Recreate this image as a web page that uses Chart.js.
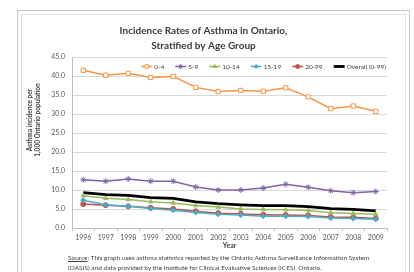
<!DOCTYPE html>
<html>
<head>
<meta charset="utf-8">
<script src="https://cdn.jsdelivr.net/npm/chart.js@4/dist/chart.umd.min.js"></script>
<style>
    html, body { margin: 0; padding: 0; background: #fff; }
    #wrap { position: relative; width: 414px; height: 272px; overflow: hidden; }
    #wrap canvas { position: absolute; left: 0; top: 0; }
    .frame { position: absolute; border: 1px solid #c9c9c9; }
    #source {
        position: absolute; left: 68px; top: 253px; width: 330px;
        font-family: Lato, "Open Sans", sans-serif; font-size: 6.5px; line-height: 10px;
        color: #404040; white-space: nowrap;
    }
</style>
</head>
<body>
<div id="wrap">
    <div class="frame" style="left:17px; top:10px; width:391px; height:280px;"></div>
    <div class="frame" style="left:21px; top:14px; width:383px; height:280px; border-color:#e0e0e0;"></div>
    <canvas id="chart" width="414" height="272"></canvas>
    <div id="source"><u>Source</u>: This graph uses asthma statistics reported by the Ontario Asthma Surveillance Information System<br>(OASIS) and data provided by the Institute for Clinical Evaluative Sciences (ICES), Ontario.</div>
</div>
<script>
// 数据
const years = ['1996', '1997', '1998', '1999', '2000', '2001', '2002', '2003', '2004', '2005', '2006', '2007', '2008', '2009'];
const age0to4 = [41.5, 40.2, 40.7, 39.6, 39.9, 37.0, 35.9, 36.2, 36.0, 36.9, 34.5, 31.4, 32.1, 30.7];
const age5to9 = [12.7, 12.3, 12.9, 12.3, 12.3, 10.8, 10.0, 10.0, 10.5, 11.5, 10.7, 9.8, 9.3, 9.6];
const age10to14 = [8.5, 7.8, 7.5, 6.9, 6.6, 5.9, 5.5, 5.0, 4.9, 4.8, 4.6, 4.0, 3.8, 3.6];
const age15to19 = [7.3, 6.1, 5.7, 5.1, 4.7, 4.1, 3.6, 3.4, 3.1, 3.1, 3.0, 2.6, 2.5, 2.3];
const age20to99 = [6.3, 6.0, 5.7, 5.3, 5.0, 4.4, 3.9, 3.7, 3.5, 3.4, 3.3, 2.9, 2.8, 2.5];
const overall = [9.3, 8.8, 8.6, 8.0, 7.8, 6.9, 6.4, 6.1, 5.9, 5.9, 5.6, 5.1, 4.9, 4.5];
const yTicks = [0, 5, 10, 15, 20, 25, 30, 35, 40, 45];
const yTitle = ['Asthma incidence per', '1,000 Ontario population'];

const FONT = 'Lato, "Open Sans", sans-serif';
const GREY = '#595959';

function series(label, data, color, style, extra) {
    return Object.assign({
        label: label,
        data: data,
        borderColor: color,
        backgroundColor: color,
        borderWidth: 1.5,
        pointStyle: style,
        pointRadius: 2.5,
        pointBorderColor: color,
        pointBackgroundColor: color,
        pointBorderWidth: 1,
        tension: 0
    }, extra || {});
}

// 图例画在绘图区内（右上）
const insideLegend = {
    id: 'insideLegend',
    afterDraw(chart) {
        const ctx = chart.ctx;
        const area = chart.chartArea;
        const sets = chart.data.datasets;
        ctx.save();
        ctx.font = '6.5px ' + FONT;
        const lineLen = 11, gap = 2, space = 11;
        const widths = sets.map(d => ctx.measureText(d.label).width);
        let total = space * (sets.length - 1);
        widths.forEach(w => { total += lineLen + gap + w; });
        let x = area.right - 1 - total;
        const y = 66.5;
        sets.forEach((d, i) => {
            ctx.strokeStyle = d.borderColor;
            ctx.lineWidth = d.borderWidth;
            ctx.beginPath();
            ctx.moveTo(x, y);
            ctx.lineTo(x + lineLen, y);
            ctx.stroke();
            if (d.pointRadius > 0) {
                ctx.fillStyle = d.pointBackgroundColor;
                ctx.strokeStyle = d.pointBorderColor;
                ctx.lineWidth = d.pointBorderWidth;
                Chart.helpers.drawPoint(ctx, {
                    pointStyle: d.pointStyle,
                    radius: d.pointRadius - 0.5,
                    borderWidth: d.pointBorderWidth,
                    rotation: 0
                }, x + lineLen / 2, y);
            }
            ctx.fillStyle = '#404040';
            ctx.textBaseline = 'middle';
            ctx.fillText(d.label, x + lineLen + gap, y);
            x += lineLen + gap + widths[i] + space;
        });
        ctx.restore();
    }
};

// y轴标题（位置偏上，与原图一致）
const yAxisTitle = {
    id: 'yAxisTitle',
    afterDraw(chart) {
        const ctx = chart.ctx;
        ctx.save();
        ctx.fillStyle = '#404040';
        ctx.font = 'bold 6.5px ' + FONT;
        ctx.textAlign = 'center';
        ctx.textBaseline = 'middle';
        const xs = [30, 38];
        yTitle.forEach((line, i) => {
            ctx.save();
            ctx.translate(xs[i], 120);
            ctx.rotate(-Math.PI / 2);
            ctx.fillText(line, 0, 0);
            ctx.restore();
        });
        ctx.restore();
    }
};

new Chart(document.getElementById('chart'), {
    type: 'line',
    data: {
        labels: years,
        datasets: [
            series('0-4', age0to4, '#F79646', 'rect', { pointBackgroundColor: '#fff', pointRadius: 3 }),
            series('5-9', age5to9, '#8064A2', 'star', { pointRadius: 3 }),
            series('10-14', age10to14, '#9BBB59', 'triangle'),
            series('15-19', age15to19, '#4BACC6', 'rectRot'),
            series('20-99', age20to99, '#C0504D', 'circle'),
            series('Overall (0-99)', overall, '#000000', 'circle', { borderWidth: 2.8, pointRadius: 0 })
        ]
    },
    options: {
        responsive: false,
        animation: false,
        layout: {
            padding: { left: 20, right: 27, top: 14, bottom: 22 }
        },
        plugins: {
            legend: { display: false },
            tooltip: { enabled: false },
            title: {
                display: true,
                text: ['Incidence Rates of Asthma in Ontario,', 'Stratified by Age Group'],
                color: '#3a3a3a',
                font: { family: FONT, size: 10, weight: 'bold', lineHeight: 1.5 },
                padding: { top: 9, bottom: 4 }
            }
        },
        scales: {
            x: {
                offset: true,
                grid: { display: true, drawOnChartArea: false, offset: true, tickLength: 3, color: '#bfbfbf' },
                border: { color: '#bfbfbf' },
                ticks: { color: GREY, font: { family: FONT, size: 7 }, padding: 3, maxRotation: 0, autoSkip: false },
                title: {
                    display: true, text: 'Year', color: '#404040',
                    font: { family: FONT, size: 7, weight: 'bold', lineHeight: 1.2 },
                    padding: { top: 0, bottom: 0 }
                },
                afterFit(scale) { scale.height = 22; }
            },
            y: {
                min: 0,
                max: 45,
                afterBuildTicks(scale) { scale.ticks = yTicks.map(v => ({ value: v })); },
                grid: { color: '#d9d9d9', drawTicks: false },
                border: { color: '#bfbfbf' },
                ticks: {
                    color: GREY, font: { family: FONT, size: 7 }, padding: 7,
                    callback: v => v.toFixed(1)
                },
                afterFit(scale) { scale.width = 52; }
            }
        }
    },
    plugins: [insideLegend, yAxisTitle]
});
</script>
</body>
</html>
